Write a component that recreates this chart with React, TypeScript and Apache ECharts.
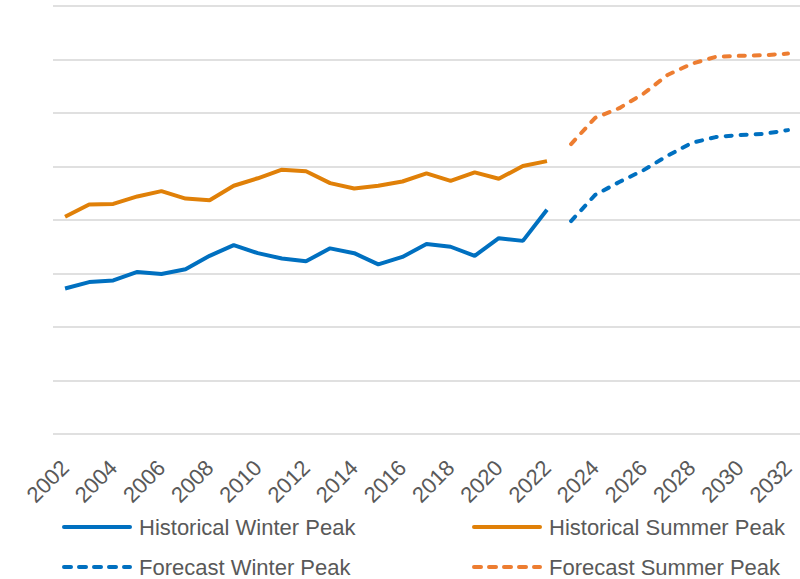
import React, { useEffect, useRef } from "react";
import * as echarts from "echarts";

const years = [
  "2002","2003","2004","2005","2006","2007","2008","2009","2010","2011",
  "2012","2013","2014","2015","2016","2017","2018","2019","2020","2021",
  "2022","2023","2024","2025","2026","2027","2028","2029","2030","2031","2032",
];

const historicalWinter = [
  2.72, 2.84, 2.87, 3.03, 2.99, 3.08, 3.33, 3.53, 3.38, 3.28,
  3.23, 3.47, 3.38, 3.17, 3.31, 3.55, 3.5, 3.33, 3.66, 3.61, 4.19,
];
const historicalSummer = [
  4.06, 4.29, 4.3, 4.44, 4.54, 4.4, 4.37, 4.64, 4.78, 4.94,
  4.91, 4.69, 4.59, 4.64, 4.72, 4.87, 4.73, 4.89, 4.77, 5.01, 5.1,
];
const forecastWinter = [3.98, 4.47, 4.71, 4.93, 5.2, 5.44, 5.55, 5.59, 5.61, 5.68];
const forecastSummer = [5.42, 5.91, 6.09, 6.36, 6.71, 6.92, 7.05, 7.07, 7.08, 7.11];

const seriesNames = [
  "Historical Winter Peak",
  "Historical Summer Peak",
  "Forecast Winter Peak",
  "Forecast Summer Peak",
];

const BLUE = "#0070C0";
const ORANGE_H = "#E08008";
const ORANGE_F = "#ED7D31";

const SOLID_ICON = "path://M2,0h66a2,2 0 0 1 0,4h-66a2,2 0 0 1 0,-4z";
const DASH_ICON =
  "path://M2,0h7a2,2 0 0 1 0,4h-7a2,2 0 0 1 0,-4z" +
  "M17,0h7a2,2 0 0 1 0,4h-7a2,2 0 0 1 0,-4z" +
  "M32,0h7a2,2 0 0 1 0,4h-7a2,2 0 0 1 0,-4z" +
  "M47,0h7a2,2 0 0 1 0,4h-7a2,2 0 0 1 0,-4z" +
  "M62,0h6a2,2 0 0 1 0,4h-6a2,2 0 0 1 0,-4z";

export default function App() {
  const ref = useRef<HTMLDivElement>(null);
  useEffect(() => {
    if (!ref.current) return;
    const chart = echarts.init(ref.current, undefined, { renderer: "svg" });
    const histLen = historicalWinter.length;
    const pad = (arr: number[], before: number) => {
      const out: (number | null)[] = [];
      for (let i = 0; i < before; i++) out.push(null);
      return out.concat(arr);
    };
    const font = "'Liberation Sans', Arial, sans-serif";
    const legendBase = (name: string, left: number, top: number, icon: string) => ({
      data: [{ name, icon }],
      left,
      top,
      padding: 0,
      itemWidth: 70,
      itemHeight: 4,
      itemGap: 0,
      selectedMode: false,
      textStyle: { fontSize: 22, color: "#595959", fontFamily: font, padding: [0, 0, 0, 2] },
    });
    chart.setOption({
      animation: false,
      grid: { left: 53, right: 0, top: 6, bottom: 145, containLabel: false },
      xAxis: {
        type: "category",
        data: years,
        boundaryGap: true,
        axisLine: { show: false },
        axisTick: { show: false },
        axisLabel: {
          interval: 1,
          rotate: 45,
          margin: 30,
          fontSize: 22,
          color: "#595959",
          fontFamily: font,
        },
      },
      yAxis: {
        type: "value",
        min: 0,
        max: 8,
        interval: 1,
        axisLabel: { show: false },
        axisLine: { show: false },
        axisTick: { show: false },
        splitLine: { lineStyle: { color: "#E0E0E0", width: 2 } },
      },
      legend: [
        legendBase(seriesNames[0], 62, 516, SOLID_ICON),
        legendBase(seriesNames[1], 472, 516, SOLID_ICON),
        legendBase(seriesNames[2], 62, 556, DASH_ICON),
        legendBase(seriesNames[3], 472, 556, DASH_ICON),
      ],
      series: [
        {
          name: seriesNames[0],
          type: "line",
          data: historicalWinter,
          symbol: "none",
          lineStyle: { color: BLUE, width: 4 },
          itemStyle: { color: BLUE },
        },
        {
          name: seriesNames[1],
          type: "line",
          data: historicalSummer,
          symbol: "none",
          lineStyle: { color: ORANGE_H, width: 4 },
          itemStyle: { color: ORANGE_H },
        },
        {
          name: seriesNames[2],
          type: "line",
          data: pad(forecastWinter, histLen),
          symbol: "none",
          lineStyle: { color: BLUE, width: 4, type: [6, 9], cap: "round" },
          itemStyle: { color: BLUE },
        },
        {
          name: seriesNames[3],
          type: "line",
          data: pad(forecastSummer, histLen),
          symbol: "none",
          lineStyle: { color: ORANGE_F, width: 4, type: [6, 9], cap: "round" },
          itemStyle: { color: ORANGE_F },
        },
      ],
    });
    return () => chart.dispose();
  }, []);
  return <div ref={ref} style={{ width: 800, height: 579, position: "absolute", left: 0, top: 0 }} />;
}
